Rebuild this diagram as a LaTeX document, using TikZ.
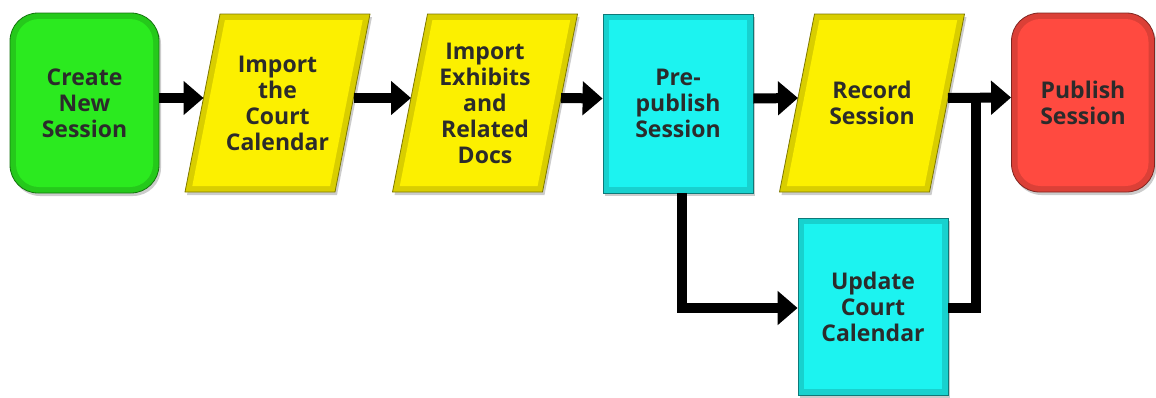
\documentclass[tikz,border=0pt]{standalone}
\usepackage{fontspec}
\setmainfont{Open Sans}
\usetikzlibrary{arrows.meta,shadows}
\definecolor{cgreen}{HTML}{2BEA1F}
\definecolor{cyel}{HTML}{FCF000}
\definecolor{ccyan}{HTML}{1CF3F0}
\definecolor{cred}{HTML}{FF4A40}
\definecolor{ctext}{HTML}{2B2B2B}
\tikzset{
  lbl/.style={font=\fontsize{23}{26}\selectfont\bfseries, text=ctext, align=center},
  rim/.style={draw=#1!50!black, line width=0.8pt, fill=#1!86!black,
    drop shadow={shadow xshift=2pt, shadow yshift=-3pt, opacity=0.4}},
  core/.style={fill=#1, draw=none},
  conn/.style={line width=10pt, draw=black},
  arr/.style={conn, -{Triangle[length=20pt,width=33pt]}}
}
\begin{document}
\begin{tikzpicture}[x=1pt,y=-1pt]
\useasboundingbox (0,0) rectangle (1156,397);
% Create New Session
\node[rim=cgreen, rounded corners=28pt, minimum width=149pt, minimum height=180pt, inner sep=0pt] (create) at (84.5,103) {};
\node[core=cgreen, rounded corners=23pt, minimum width=137pt, minimum height=168pt, inner sep=0pt, lbl] (createin) at (create.center) {Create\\New\\Session};
% Import the Court Calendar
\begin{scope}[shift={(277.5,103)}]
\path[rim=cyel] (-57.5,-89) -- (92.5,-89) -- (57.5,89) -- (-92.5,89) -- cycle;
\path[core=cyel] (-52.6,-83) -- (85.2,-83) -- (52.6,83) -- (-85.2,83) -- cycle;
\node[lbl] (imp1) at (0,0) {Import\\the\\Court\\Calendar};
\coordinate (imp1w) at (-74,-5);
\coordinate (imp1e) at (76,-5);
\end{scope}
% Import Exhibits and Related Docs
\begin{scope}[shift={(485,103)}]
\path[rim=cyel] (-57.5,-89) -- (92.5,-89) -- (57.5,89) -- (-92.5,89) -- cycle;
\path[core=cyel] (-52.6,-83) -- (85.2,-83) -- (52.6,83) -- (-85.2,83) -- cycle;
\node[lbl] (imp2) at (0,0) {Import\\Exhibits\\and\\Related\\Docs};
\coordinate (imp2w) at (-74,-5);
\coordinate (imp2e) at (76,-5);
\end{scope}
% Pre-publish Session
\node[rim=ccyan, minimum width=150pt, minimum height=179pt, inner sep=0pt] (pre) at (678,103.5) {};
\node[core=ccyan, minimum width=138pt, minimum height=167pt, inner sep=0pt, lbl] (prein) at (pre.center) {Pre-\\publish\\Session};
% Record Session
\begin{scope}[shift={(872,103)}]
\path[rim=cyel] (-57.5,-89) -- (92.5,-89) -- (57.5,89) -- (-92.5,89) -- cycle;
\path[core=cyel] (-52.6,-83) -- (85.2,-83) -- (52.6,83) -- (-85.2,83) -- cycle;
\node[lbl] (rec) at (0,0) {Record\\Session};
\coordinate (recw) at (-74,-5);
\coordinate (rece) at (76,-5);
\end{scope}
% Publish Session
\node[rim=cred, rounded corners=28pt, minimum width=143pt, minimum height=179pt, inner sep=0pt] (pub) at (1083,102.5) {};
\node[core=cred, rounded corners=23pt, minimum width=131pt, minimum height=167pt, inner sep=0pt, lbl] (pubin) at (pub.center) {Publish\\Session};
% Update Court Calendar
\node[rim=ccyan, minimum width=150pt, minimum height=177pt, inner sep=0pt] (upd) at (873,306.5) {};
\node[core=ccyan, minimum width=138pt, minimum height=165pt, inner sep=0pt, lbl] (updin) at (upd.center) {Update\\Court\\Calendar};
% connectors
\coordinate (j) at (976,98);
\draw[arr] ([yshift=5pt]create.east) -- (imp1w);
\draw[arr] (imp1e) -- (imp2w);
\draw[arr] (imp2e) -- ([yshift=5pt]pre.west);
\draw[arr] ([yshift=5pt]pre.east) -- (recw);
\draw[arr] (rece) -- ([yshift=5pt]pub.west);
\draw[arr] ([xshift=4pt]pre.south) |- ([yshift=-1.5pt]upd.west);
\draw[conn] ([yshift=-1.5pt]upd.east) -| (j);
\end{tikzpicture}
\end{document}
